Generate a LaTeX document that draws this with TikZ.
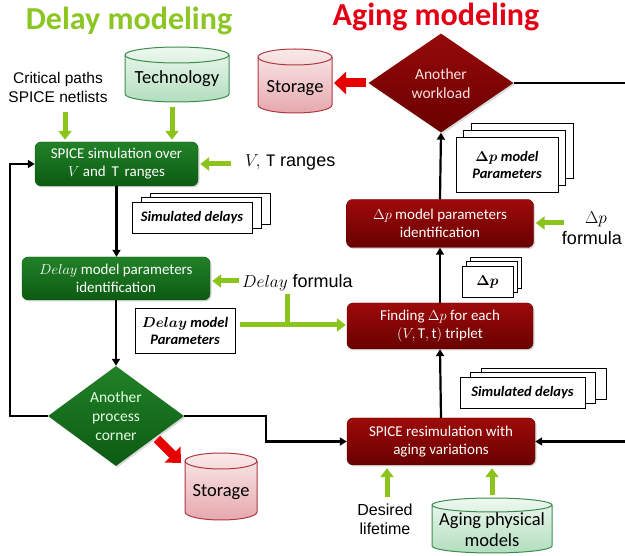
\documentclass[tikz,border=0pt]{standalone}
\usepackage{fontspec}
\setmainfont{Carlito}
\newfontfamily\arialf{Liberation Sans}
\usepackage{amsmath,amssymb}
\usetikzlibrary{arrows.meta,shapes.geometric,shadows,calc}
\definecolor{titlegreen}{RGB}{140,198,35}
\definecolor{titlered}{RGB}{228,0,20}
\definecolor{limearr}{RGB}{140,196,30}
\definecolor{redarr}{RGB}{230,0,0}
\definecolor{gbtop}{RGB}{34,130,40}
\definecolor{gbbot}{RGB}{12,90,18}
\definecolor{rbtop}{RGB}{158,10,10}
\definecolor{rbbot}{RGB}{105,0,0}
\definecolor{cgtop}{RGB}{238,248,240}
\definecolor{cgbot}{RGB}{178,222,190}
\definecolor{cgline}{RGB}{60,140,80}
\definecolor{crtop}{RGB}{250,234,234}
\definecolor{crbot}{RGB}{230,168,174}
\definecolor{crline}{RGB}{175,55,65}
\newcommand\boxfont{\fontsize{15}{18}\selectfont}
\newcommand\lblfont{\arialf\fontsize{18}{21}\selectfont}
\newcommand\smlblfont{\arialf\fontsize{15.5}{19}\selectfont}
\newcommand\cylfont{\fontsize{18.5}{21}\selectfont}
\newcommand\docfont{\fontsize{14.5}{17}\selectfont\bfseries\itshape}
\newcommand\mycyl[6]{%
  \path[#6] (#1,{-(#3+#5)}) -- (#1,{-(#4-#5)})
    arc[start angle=180,end angle=360,x radius={(#2-#1)/2},y radius=#5]
    -- (#2,{-(#3+#5)})
    arc[start angle=0,end angle=180,x radius={(#2-#1)/2},y radius=#5] -- cycle;
  \path[#6,draw only] (#1,{-(#3+#5)})
    arc[start angle=180,end angle=360,x radius={(#2-#1)/2},y radius=#5];}
\begin{document}
\begin{tikzpicture}[x=1pt,y=1pt,
  box/.style={rounded corners=6pt, text=white, align=center, font=\boxfont, inner sep=2pt,
    drop shadow={shadow xshift=1.5pt,shadow yshift=-1.5pt,opacity=0.3}},
  gbox/.style={box, top color=gbtop, bottom color=gbbot, draw=gbbot},
  rbox/.style={box, top color=rbtop, bottom color=rbbot, draw=rbbot},
  docbox/.style={draw=black, fill=white, line width=0.9pt, align=center, font=\docfont, inner sep=2pt},
  docstack/.style 2 args={docbox, double copy shadow={shadow xshift=#1, shadow yshift=#2, fill=white, draw=black, line width=0.9pt}},
  conn/.style={line width=2.2pt, -{Triangle[width=8pt,length=7pt]}},
  plainline/.style={line width=2.2pt},
  garrow/.style={line width=5pt, draw=limearr, -{Triangle[width=13pt,length=9pt]}},
  gline/.style={line width=5pt, draw=limearr},
  rarrow/.style={line width=9pt, draw=redarr, -{Triangle[width=22pt,length=12pt]}},
  lbl/.style={align=center, font=\lblfont, text=black, inner sep=1pt},
  smlbl/.style={align=center, font=\smlblfont, text=black, inner sep=1pt},
  cyltext/.style={align=center, font=\cylfont, text=black, inner sep=0pt},
  cylg/.style={top color=cgtop, bottom color=cgbot, draw=cgline, line width=1pt},
  cylr/.style={top color=crtop, bottom color=crbot, draw=crline, line width=1pt},
  draw only/.style={fill=none, shade=false},
  wtext/.style={align=center, font=\boxfont, text=white, inner sep=0pt},
]
\useasboundingbox (0,0) rectangle (625,-556);
% titles
\node[font=\fontsize{32}{36}\selectfont\bfseries, text=titlegreen] (t1) at (129,-21) {Delay modeling};
\node[font=\fontsize{32}{36}\selectfont\bfseries, text=titlered] (t2) at (436,-17) {Aging modeling};
% cylinders
\mycyl{125}{229}{47}{102}{8}{cylg}
\node[cyltext] (tech) at (177,-79) {Technology};
\coordinate (techb) at (172,-107);
\mycyl{258}{332}{49}{113}{8}{cylr}
\node[cyltext] (stor1) at (295,-88) {Storage};
\mycyl{185}{257}{453}{520}{8}{cylr}
\node[cyltext] (stor2) at (221,-492) {Storage};
\mycyl{432}{552}{498}{553}{7}{cylg}
\node[cyltext] (agingm) at (492,-530) {Aging physical\\models};
% left column
\node[smlbl] (crit) at (58,-87) {Critical paths\\SPICE netlists};
\node[gbox, minimum width=163pt, minimum height=44pt] (spice) at (116.5,-164) {SPICE simulation over\\$V$ and $\,\mathrm{T}\,$ ranges};
\node[lbl, anchor=west] (vtr) at (244,-162) {$V,\,\mathrm{T}$ ranges};
\node[docstack={9pt}{4.5pt}, minimum width=120pt, minimum height=31pt] (sd1) at (192,-217.5) {Simulated delays};
\node[gbox, minimum width=188pt, minimum height=43pt] (delayid) at (116,-278.5) {$Delay$ model parameters\\identification};
\node[lbl, anchor=west] (delayf) at (241,-283) {$Delay$ formula};
\node[docbox, minimum width=100pt, minimum height=45pt] (dmp) at (185,-330.5) {$\boldsymbol{Delay}$ model\\Parameters};
\node[diamond, minimum width=136pt, minimum height=100pt, inner sep=0pt, top color=gbtop, bottom color=gbbot,
  drop shadow={shadow xshift=1.5pt,shadow yshift=-1.5pt,opacity=0.3}] (corner) at (116,-416) {};
\node[wtext, text=white!90!green, font=\fontsize{15.5}{19}\selectfont] (cornert) at (116,-416) {Another\\process\\corner};
% right column
\node[diamond, minimum width=145pt, minimum height=99pt, inner sep=0pt, top color=rbtop!95!black, bottom color=rbbot,
  drop shadow={shadow xshift=1.5pt,shadow yshift=-1.5pt,opacity=0.3}] (workload) at (441,-83) {};
\node[wtext, text=white!88!red, font=\fontsize{15.5}{19}\selectfont] (workloadt) at (441,-84) {Another\\workload};
\node[docstack={7.5pt}{7pt}, minimum width=102pt, minimum height=55pt] (dpm) at (507,-164.5) {$\boldsymbol{\Delta p}$ model\\Parameters};
\node[rbox, minimum width=187pt, minimum height=48pt] (dpid) at (440,-223.5) {$\Delta p$ model parameters\\identification};
\node[lbl] (dpf) at (592,-228) {\hspace*{8pt}$\Delta p$\\formula};
\node[docstack={4pt}{4.5pt}, minimum width=51pt, minimum height=31pt] (dp) at (487.5,-281.5) {$\boldsymbol{\Delta p}$};
\node[rbox, minimum width=186pt, minimum height=46pt] (findd) at (440,-326) {Finding $\Delta p$ for each\\$(V,\mathrm{T},\mathrm{t})$ triplet};
\node[docstack={10.5pt}{4.5pt}, minimum width=125pt, minimum height=31pt] (sd2) at (522.5,-392.5) {Simulated delays};
\node[rbox, minimum width=188pt, minimum height=47pt] (resim) at (441,-441.5) {SPICE resimulation with\\aging variations};
\node[smlbl, font=\arialf\fontsize{16}{19}\selectfont] (life) at (385,-519) {Desired\\lifetime};
% black connectors
\coordinate (loopb) at (10,-416);
\draw[conn] (corner.west) -- (loopb) |- (spice.west);
\draw[conn] (spice.south) -- (spice.south |- delayid.north);
\draw[conn] (delayid.south) -- (corner.north);
\coordinate (stepc) at (266,-416);
\draw[conn] (corner.east) -- (stepc) |- (resim.west);
\draw[conn] (resim.north) -- (findd.south);
\draw[conn] (findd.north) -- (dpid.south);
\draw[conn] (dpid.north) -- (workload.south);
\coordinate (wout) at (625,-83);
\draw[plainline] (workload.east) -- (wout);
\coordinate (rin) at (625,-441.5);
\draw[conn] (rin) -- (resim.east);
% green arrows
\coordinate (crita) at (65,-112);
\draw[garrow, shorten >=2pt] (crita) -- (crita |- spice.north);
\draw[garrow, shorten >=2pt] (techb) -- (techb |- spice.north);
\coordinate (vta) at (231,-164);
\draw[garrow, shorten >=2pt] (vta) -- (spice.east |- vta);
\coordinate (dfa) at (239,-281);
\draw[garrow, shorten >=2pt] (dfa) -- (delayid.east |- dfa);
\coordinate (tj) at (287,-325);
\coordinate (tt) at (287,-294);
\coordinate (ts) at (240,-325);
\draw[gline] (tt) -- (tj);
\draw[garrow, shorten >=1pt] (ts) -- (ts -| findd.west);
\coordinate (dpa) at (564,-223);
\draw[garrow, shorten >=2pt] (dpa) -- (dpa -| dpid.east);
\coordinate (lifea) at (387,-497);
\draw[garrow, shorten >=3pt] (lifea) -- (lifea |- resim.south);
\coordinate (agea) at (492,-495);
\draw[garrow, shorten >=3pt] (agea) -- (agea |- resim.south);
% red arrows
\coordinate (ra1) at (366,-83);
\draw[rarrow] (ra1) -- (334,-83);
\coordinate (ra2) at (157,-439);
\draw[rarrow] (ra2) -- (181,-463);
\end{tikzpicture}
\end{document}
